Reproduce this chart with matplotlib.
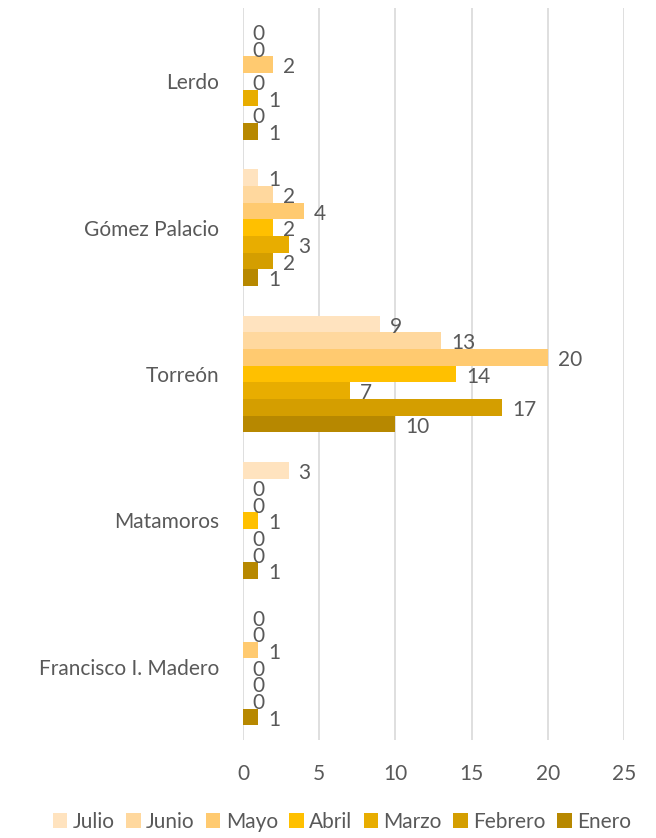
import matplotlib.pyplot as plt
import numpy as np

# Data (categories bottom -> top as drawn by matplotlib)
municipios = ["Francisco I. Madero", "Matamoros", "Torreón", "Gómez Palacio", "Lerdo"]
meses = ["Enero", "Febrero", "Marzo", "Abril", "Mayo", "Junio", "Julio"]

enero = [1, 1, 10, 1, 1]
febrero = [0, 0, 17, 2, 0]
marzo = [0, 0, 7, 3, 1]
abril = [0, 1, 14, 2, 0]
mayo = [1, 0, 20, 4, 2]
junio = [0, 0, 13, 2, 0]
julio = [0, 3, 9, 1, 0]

series = [enero, febrero, marzo, abril, mayo, junio, julio]
colores = ["#B78800", "#D49E00", "#E8AD00", "#FFC000", "#FFCA70", "#FFD89E", "#FFE3BF"]

plt.rcParams['font.family'] = ['Lato', 'DejaVu Sans']
texto = "#595959"

fig = plt.figure(figsize=(6.56, 8.38), dpi=100)
ax = fig.add_axes([0.3704, 0.1169, 0.5808, 0.8736])

y = np.arange(len(municipios))
h = 0.114
for i, (vals, col, mes) in enumerate(zip(series, colores, meses)):
    pos = y + (i - 3) * h
    bars = ax.barh(pos, vals, height=h, color=col, label=mes, zorder=3)
    for b, v in zip(bars, vals):
        ax.annotate(str(v), (v, b.get_y() + h / 2), xytext=(7, -2),
                    textcoords="offset points", ha="left", va="center",
                    fontsize=15, color=texto)

ax.set_xlim(0, 25)
ax.set_ylim(-0.5, 4.5)
ax.set_xticks([0, 5, 10, 15, 20, 25])
ax.set_yticks(y)
ax.set_yticklabels(municipios, fontsize=15.5)
ax.tick_params(axis="both", length=0, labelsize=15, colors=texto)
ax.tick_params(axis="x", pad=17)
ax.tick_params(axis="y", pad=17)
ax.grid(axis="x", color="#D9D9D9", linewidth=1.2, zorder=0)
for s in ax.spines.values():
    s.set_visible(False)

handles, labels = ax.get_legend_handles_labels()
leg = fig.legend(handles[::-1], labels[::-1], loc="center", bbox_to_anchor=(0.521, 0.019),
                 ncol=7, frameon=False, fontsize=15, handlelength=0.7, handleheight=0.7,
                 handletextpad=0.25, columnspacing=0.55, borderaxespad=0)
for t in leg.get_texts():
    t.set_color(texto)

fig.savefig("out.png", dpi=100)
